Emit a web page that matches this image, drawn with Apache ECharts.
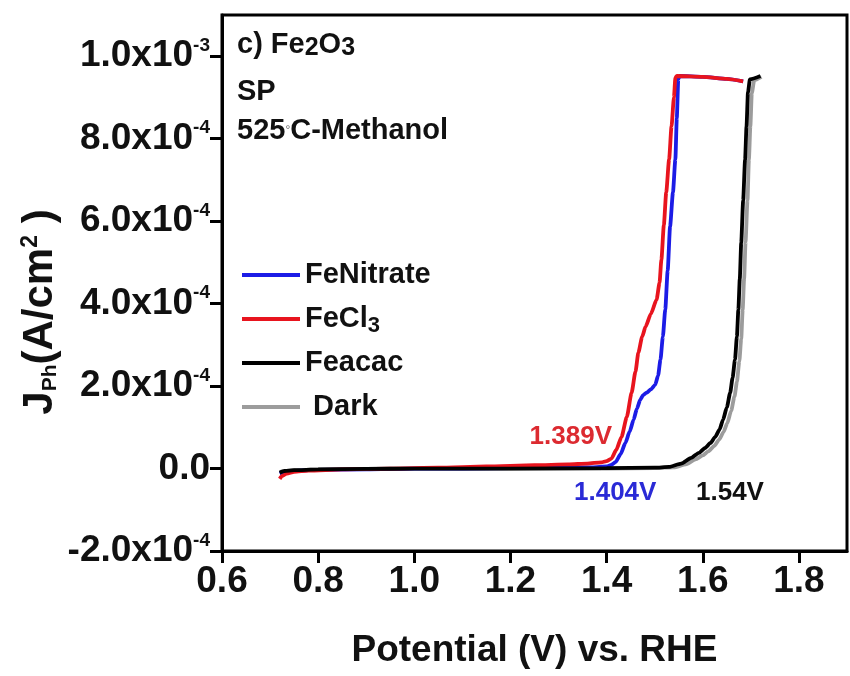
<!DOCTYPE html>
<html>
<head>
<meta charset="utf-8">
<script src="https://cdn.jsdelivr.net/npm/echarts@6/dist/echarts.min.js"></script>
<style>
  html, body { margin: 0; padding: 0; background: #fff; }
  #chart { width: 850px; height: 676px; }
</style>
</head>
<body>
<div id="chart"></div>
<script>
// Photocurrent density (units of 1e-4 A/cm^2) vs. potential (V vs. RHE)
const feNitrateV = [0.72, 0.73, 0.76, 0.80, 0.90, 1.00, 1.10, 1.20, 1.30, 1.37, 1.40, 1.41, 1.419, 1.429, 1.439, 1.448, 1.456, 1.463, 1.470, 1.476, 1.483, 1.492, 1.501, 1.507, 1.512, 1.517, 1.522, 1.527, 1.532, 1.538, 1.543, 1.546, 1.549, 1.552, 1.600, 1.650, 1.684];
const feNitrateJ = [-0.12, -0.08, -0.05, -0.03, -0.02, 0.00, 0.00, 0.01, 0.02, 0.03, 0.05, 0.09, 0.16, 0.35, 0.62, 0.90, 1.18, 1.45, 1.67, 1.78, 1.84, 1.92, 2.03, 2.25, 2.64, 3.20, 3.86, 4.80, 5.87, 6.70, 7.50, 8.50, 9.44, 9.52, 9.50, 9.45, 9.39];

const feCl3V = [0.720, 0.725, 0.735, 0.75, 0.78, 0.85, 0.95, 1.05, 1.15, 1.25, 1.32, 1.36, 1.389, 1.400, 1.410, 1.420, 1.431, 1.442, 1.452, 1.460, 1.466, 1.474, 1.481, 1.492, 1.504, 1.510, 1.514, 1.519, 1.524, 1.530, 1.535, 1.540, 1.543, 1.546, 1.600, 1.650, 1.684];
const feCl3J = [-0.25, -0.18, -0.12, -0.08, -0.05, -0.02, 0.00, 0.02, 0.05, 0.08, 0.10, 0.12, 0.15, 0.18, 0.24, 0.45, 0.77, 1.25, 1.84, 2.35, 2.81, 3.20, 3.44, 3.75, 4.10, 4.50, 5.07, 5.90, 6.70, 7.50, 8.30, 9.00, 9.48, 9.52, 9.50, 9.45, 9.39];

const feacacV = [0.72, 0.73, 0.75, 0.80, 0.90, 1.00, 1.20, 1.40, 1.50, 1.53, 1.555, 1.576, 1.592, 1.605, 1.616, 1.626, 1.635, 1.642, 1.650, 1.657, 1.662, 1.667, 1.671, 1.674, 1.677, 1.680, 1.684, 1.688, 1.691, 1.694, 1.698, 1.720];
const feacacJ = [-0.10, -0.06, -0.04, -0.02, -0.01, 0.00, 0.00, 0.01, 0.02, 0.04, 0.12, 0.26, 0.38, 0.50, 0.62, 0.77, 0.95, 1.18, 1.48, 1.84, 2.20, 2.64, 3.20, 3.85, 4.60, 5.48, 6.50, 7.49, 8.30, 9.12, 9.44, 9.52];

const darkV = [0.72, 0.75, 0.80, 0.90, 1.00, 1.20, 1.40, 1.50, 1.54, 1.565, 1.585, 1.600, 1.612, 1.624, 1.634, 1.643, 1.651, 1.659, 1.666, 1.671, 1.676, 1.680, 1.683, 1.686, 1.689, 1.693, 1.696, 1.699, 1.702, 1.707, 1.722];
const darkJ = [-0.08, -0.04, -0.02, -0.01, 0.00, 0.00, 0.00, 0.01, 0.03, 0.10, 0.22, 0.32, 0.42, 0.55, 0.70, 0.88, 1.10, 1.40, 1.75, 2.10, 2.60, 3.15, 3.85, 4.60, 5.50, 6.50, 7.50, 8.30, 9.10, 9.42, 9.50];

// Axis ticks
const xTickValues = [0.6, 0.8, 1.0, 1.2, 1.4, 1.6, 1.8];
const yTickValues = [-2, 0, 2, 4, 6, 8, 10];
const yTickMantissa = ['-2.0x10', '0.0', '2.0x10', '4.0x10', '6.0x10', '8.0x10', '1.0x10'];
const yTickExponent = ['-4', '', '-4', '-4', '-4', '-4', '-3'];

// Onset potentials
const onsetLabels = ['1.389V', '1.404V', '1.54V'];

const FONT = '"Liberation Sans", Arial, sans-serif';
const zip = (xs, ys) => xs.map((x, i) => [x, ys[i]]);

const chart = echarts.init(document.getElementById('chart'), null, { renderer: 'canvas' });

function lineSeries(name, xs, ys, color, z) {
  return {
    name: name,
    type: 'line',
    data: zip(xs, ys),
    showSymbol: false,
    symbol: 'none',
    smooth: 0.2,
    smoothMonotone: 'x',
    z: z,
    lineStyle: { color: color, width: 3.8 },
    itemStyle: { color: color },
    emphasis: { disabled: true },
    animation: false
  };
}

const option = {
  animation: false,
  backgroundColor: '#fff',
  grid: {
    left: 222, right: 3, top: 15, bottom: 125,
    show: true, borderColor: '#000', borderWidth: 3, backgroundColor: 'transparent'
  },
  xAxis: {
    type: 'value',
    min: 0.6, max: 1.9, interval: 0.2,
    axisLine: { show: true, onZero: false, lineStyle: { color: '#000', width: 3 } },
    axisTick: { show: true, inside: false, length: 12, lineStyle: { color: '#000', width: 3 }, customValues: xTickValues },
    axisLabel: {
      customValues: xTickValues,
      formatter: v => v.toFixed(1),
      margin: 12, color: '#111', fontFamily: FONT, fontWeight: 'bold', fontSize: 37
    },
    splitLine: { show: false },
    name: 'Potential (V) vs. RHE',
    nameLocation: 'middle',
    nameGap: 81,
    nameTextStyle: { color: '#111', fontFamily: FONT, fontWeight: 'bold', fontSize: 37 }
  },
  yAxis: {
    type: 'value',
    min: -2, max: 11, interval: 2,
    axisLine: { show: true, onZero: false, lineStyle: { color: '#000', width: 3 } },
    axisTick: { show: true, inside: false, length: 12, lineStyle: { color: '#000', width: 3 }, customValues: yTickValues },
    axisLabel: {
      customValues: yTickValues,
      margin: 12,
      formatter: v => {
        const i = yTickValues.indexOf(Math.round(v));
        if (i < 0) return '';
        return yTickExponent[i] ? '{m|' + yTickMantissa[i] + '}{e|' + yTickExponent[i] + '}' : '{m|' + yTickMantissa[i] + '}';
      },
      rich: {
        m: { color: '#111', fontFamily: FONT, fontWeight: 'bold', fontSize: 37, lineHeight: 40 },
        e: { color: '#111', fontFamily: FONT, fontWeight: 'bold', fontSize: 19, lineHeight: 18, verticalAlign: 'top' }
      }
    },
    splitLine: { show: false }
  },
  legend: {
    orient: 'vertical',
    left: 237, top: 252,
    itemWidth: 58, itemHeight: 4, itemGap: 8,
    icon: 'rect',
    data: ['FeNitrate', 'FeCl3', 'Feacac', 'Dark'],
    formatter: name => ({ FeNitrate: 'FeNitrate', FeCl3: 'FeCl{sub|3}', Feacac: 'Feacac', Dark: ' Dark' })[name],
    selectedMode: false,
    textStyle: {
      color: '#111', fontFamily: FONT, fontWeight: 'bold', fontSize: 29, lineHeight: 36,
      rich: { sub: { color: '#111', fontFamily: FONT, fontWeight: 'bold', fontSize: 22, lineHeight: 12, verticalAlign: 'bottom' } }
    }
  },
  series: [
    lineSeries('Dark', darkV, darkJ, '#9c9c9c', 1),
    lineSeries('FeNitrate', feNitrateV, feNitrateJ, '#1c1ce6', 2),
    lineSeries('FeCl3', feCl3V, feCl3J, '#e8141e', 3),
    lineSeries('Feacac', feacacV, feacacJ, '#000000', 4)
  ],
  graphic: [
    {
      type: 'text', x: 40, y: 312, rotation: Math.PI / 2,
      style: {
        text: 'J{sub|Ph}(A/cm{sup|2} )',
        align: 'center', verticalAlign: 'middle',
        fill: '#111', fontFamily: FONT, fontWeight: 'bold', fontSize: 42,
        rich: {
          sub: { fill: '#111', fontFamily: FONT, fontWeight: 'bold', fontSize: 21, lineHeight: 14, verticalAlign: 'bottom' },
          sup: { fill: '#111', fontFamily: FONT, fontWeight: 'bold', fontSize: 23, lineHeight: 22, verticalAlign: 'top' }
        }
      }
    },
    {
      type: 'text', left: 237, top: 29,
      style: {
        text: 'c) Fe{sub|2}O{sub|3}',
        fill: '#111', fontFamily: FONT, fontWeight: 'bold', fontSize: 29, lineHeight: 32,
        rich: { sub: { fill: '#111', fontFamily: FONT, fontWeight: 'bold', fontSize: 25, lineHeight: 14, verticalAlign: 'bottom' } }
      }
    },
    {
      type: 'text', left: 237, top: 77,
      style: { text: 'SP', fill: '#111', fontFamily: FONT, fontWeight: 'bold', fontSize: 29 }
    },
    {
      type: 'text', left: 237, top: 115,
      style: {
        text: '525{deg|°}C-Methanol',
        fill: '#111', fontFamily: FONT, fontWeight: 'bold', fontSize: 29, lineHeight: 32,
        rich: { deg: { fill: '#666', fontFamily: FONT, fontSize: 12, lineHeight: 32, verticalAlign: 'middle' } }
      }
    },
    {
      type: 'text', right: 850 - 612, top: 424,
      style: { text: onsetLabels[0], fill: '#dc2a30', fontFamily: FONT, fontWeight: 'bold', fontSize: 26 }
    },
    {
      type: 'text', left: 574, top: 480,
      style: { text: onsetLabels[1], fill: '#2a2ad6', fontFamily: FONT, fontWeight: 'bold', fontSize: 26 }
    },
    {
      type: 'text', left: 696, top: 480,
      style: { text: onsetLabels[2], fill: '#111', fontFamily: FONT, fontWeight: 'bold', fontSize: 26 }
    }
  ]
};

chart.setOption(option);
</script>
</body>
</html>
